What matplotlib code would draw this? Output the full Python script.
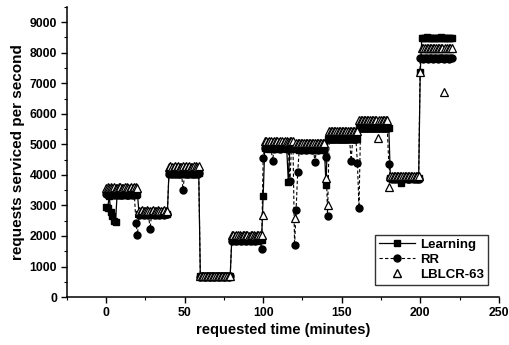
import matplotlib
matplotlib.use("Agg")
import matplotlib.pyplot as plt
from matplotlib.ticker import MultipleLocator
from matplotlib.lines import Line2D

plt.rcParams['font.family'] = ['Liberation Sans', 'DejaVu Sans']

# sampling times (minutes)
time = list(range(0, 221))

learning = [
    2950, 2900, 3300, 2800, 2650, 2500, 2450, 3340, 3360, 3350, 3340, 3370, 3350, 3360, 3340, 3350, 3370, 3350, 3360, 3340, 3360,
    2720, 2700, 2730, 2710, 2720, 2700, 2730, 2710, 2720, 2700, 2710, 2730, 2720, 2700, 2710, 2720, 2730, 2710, 2720,
    4050, 4030, 4060, 4040, 4050, 4020, 4060, 4040, 4050, 4030, 4040, 4060, 4050, 4030, 4040, 4050, 4060, 4040, 4030, 4050,
    680, 670, 690, 680, 670, 690, 680, 670, 690, 680, 670, 680, 690, 680, 670, 690, 680, 670, 690, 680,
    1860, 1850, 1870, 1860, 1840, 1870, 1860, 1850, 1870, 1860, 1850, 1860, 1870, 1850, 1860, 1870, 1850, 1860, 1870, 1860,
    3300, 4880, 4870, 4890, 4860, 4880, 4870, 4890, 4880, 4870, 4860, 4880, 4890, 4870, 4880, 4860, 3780, 4870, 4880, 4890, 4870,
    4840, 4850, 4830, 4850, 4840, 4830, 4850, 4840, 4850, 4830, 4840, 4850, 4830, 4840, 4850, 4840, 4830, 4850, 4840, 3680,
    5180, 5190, 5170, 5180, 5200, 5170, 5190, 5180, 5170, 5180, 5190, 5180, 5170, 5190, 5180, 5200, 5170, 5180, 5190, 5180,
    5530, 5540, 5520, 5530, 5550, 5520, 5540, 5530, 5520, 5530, 5540, 5530, 5520, 5540, 5530, 5550, 5520, 5530, 5540, 5530,
    3890, 3880, 3900, 3890, 3880, 3890, 3900, 3720, 3890, 3880, 3900, 3890, 3880, 3890, 3900, 3880, 3890, 3880, 3890,
    7380, 8470, 8490, 8480, 8500, 8470, 8490, 8480, 8470, 8490, 8480, 8470, 8490, 8500, 8480, 8470, 8490, 8480, 8470, 8490, 8480,
]

rr = [
    3360, 3350, 3370, 3340, 3360, 3350, 3370, 3350, 3360, 3340, 3350, 3370, 3360, 3350, 3340, 3360, 3370, 3350, 3360, 2440, 2040,
    2700, 2720, 2710, 2700, 2720, 2710, 2700, 2230, 2720, 2710, 2700, 2720, 2710, 2700, 2720, 2710, 2700, 2720, 2710,
    4040, 4050, 4030, 4060, 4040, 4050, 4030, 4040, 4060, 3520, 4050, 4030, 4040, 4050, 4060, 4040, 4030, 4050, 4040, 4050,
    670, 680, 690, 670, 680, 690, 670, 680, 690, 670, 680, 690, 670, 680, 690, 670, 680, 690, 670, 680,
    1850, 1860, 1870, 1850, 1860, 1870, 1850, 1860, 1870, 1850, 1860, 1870, 1850, 1860, 1870, 1850, 1860, 1870, 1860, 1580,
    4560, 4880, 4870, 4890, 4870, 4880, 4470, 4860, 4890, 4870, 4880, 4860, 4870, 4890, 4880, 4870, 4860, 3800, 4880, 4870, 1690,
    2860, 4100, 4850, 4830, 4850, 4840, 4830, 4850, 4840, 4850, 4830, 4840, 4430, 4850, 4830, 4840, 4850, 4840, 4830, 4570,
    2640, 5180, 5190, 5170, 5180, 5170, 5190, 5180, 5170, 5180, 5190, 5180, 5170, 5190, 5180, 4470, 5170, 5180, 5190, 4400,
    2930, 5530, 5540, 5520, 5530, 5550, 5520, 5540, 5530, 5520, 5530, 5540, 5530, 5520, 5540, 5530, 5550, 5520, 5530, 4340,
    3890, 3880, 3900, 3880, 3890, 3870, 3900, 3890, 3880, 3890, 3900, 3880, 3870, 3890, 3900, 3880, 3890, 3870, 3880,
    7820, 7830, 7810, 7820, 7840, 7810, 7830, 7820, 7810, 7830, 7820, 7810, 7830, 7840, 7820, 7810, 7830, 7820, 7810, 7830, 7820,
]

lblcr = [
    3580, 3590, 3570, 3600, 3580, 3590, 3570, 3580, 3600, 3590, 3580, 3570, 3590, 3600, 3580, 3570, 3590, 3580, 3600, 3590, 3580,
    2830, 2820, 2840, 2830, 2820, 2840, 2830, 2820, 2830, 2840, 2820, 2830, 2840, 2830, 2820, 2830, 2840, 2820, 2830,
    4270, 4280, 4260, 4270, 4290, 4260, 4280, 4270, 4260, 4280, 4270, 4290, 4260, 4280, 4270, 4260, 4280, 4290, 4270, 4280,
    690, 700, 690, 680, 700, 690, 700, 690, 680, 690, 700, 690, 680, 700, 690, 700, 690, 680, 690, 700,
    2020, 2030, 2010, 2020, 2030, 2020, 2010, 2030, 2020, 2020, 2030, 2010, 2020, 2030, 2020, 2010, 2030, 2020, 2030, 2020,
    2700, 5100, 5110, 5090, 5100, 5110, 5090, 5100, 5110, 5100, 5090, 5110, 5100, 5090, 5100, 5110, 5090, 5100, 5110, 5100, 2600,
    5050, 5060, 5040, 5050, 5060, 5040, 5050, 5060, 5050, 5040, 5060, 5050, 5040, 5050, 5060, 5050, 5040, 5060, 5050, 3900,
    3000, 5440, 5450, 5430, 5440, 5450, 5430, 5440, 5450, 5440, 5430, 5450, 5440, 5430, 5450, 5440, 5430, 5440, 5450, 5440,
    5800, 5810, 5790, 5800, 5810, 5790, 5800, 5810, 5800, 5790, 5810, 5800, 5200, 5790, 5810, 5800, 5790, 5810, 5800, 3610,
    3960, 3970, 3950, 3960, 3970, 3950, 3960, 3970, 3960, 3950, 3970, 3960, 3950, 3970, 3960, 3950, 3960, 3970, 3960,
    7380, 8150, 8160, 8140, 8150, 8160, 8140, 8150, 8160, 8140, 8150, 8160, 8140, 8150, 8160, 6730, 8140, 8150, 8160, 8140, 8150,
]

series_labels = ["Learning", "RR", "LBLCR-63"]

fig = plt.figure(figsize=(5.10, 3.45), dpi=100)
ax = fig.add_axes([0.131, 0.139, 0.847, 0.841])

ax.plot(time, learning, color='black', lw=0.9, ls='-', marker='s', ms=4.5,
        mfc='black', mec='black', label=series_labels[0], zorder=3)
ax.plot(time, rr, color='black', lw=0.8, ls=(0, (3, 2)), marker='o', ms=5,
        mfc='black', mec='black', label=series_labels[1], zorder=4)
ax.plot(time, lblcr, ls='none', marker='^', ms=5.5, mfc='white', mec='black',
        mew=0.9, label=series_labels[2], zorder=5)

ax.set_xlim(-25, 250)
ax.set_ylim(0, 9500)
ax.xaxis.set_major_locator(MultipleLocator(50))
ax.xaxis.set_minor_locator(MultipleLocator(25))
ax.yaxis.set_major_locator(MultipleLocator(1000))
ax.yaxis.set_minor_locator(MultipleLocator(500))
ax.tick_params(which='major', direction='out', length=4, width=1.0, labelsize=8.8, pad=3)
ax.tick_params(which='minor', direction='out', length=2.5, width=0.8)
for lab in ax.get_xticklabels() + ax.get_yticklabels():
    lab.set_fontweight('bold')

ax.spines['top'].set_visible(False)
ax.spines['right'].set_visible(False)
ax.spines['left'].set_linewidth(1.1)
ax.spines['bottom'].set_linewidth(1.1)

ax.set_xlabel("requested time (minutes)", fontsize=10.5, fontweight='bold', labelpad=3)
ax.set_ylabel("requests serviced per second", fontsize=11, fontweight='bold', labelpad=3)

handles = [
    Line2D([], [], color='black', lw=0.9, marker='s', ms=4.5),
    Line2D([], [], color='black', lw=0.8, ls=(0, (3, 2)), marker='o', ms=5),
    Line2D([], [], ls='none', marker='^', ms=5.5, mfc='white', mec='black'),
]
leg = ax.legend(handles, series_labels, loc='lower right',
                bbox_to_anchor=(0.99, 0.02), frameon=True, fancybox=False,
                edgecolor='black', prop={'weight': 'bold', 'size': 9.5},
                handlelength=2.7, handletextpad=0.4, borderpad=0.3,
                labelspacing=0.2)
leg.get_frame().set_linewidth(1.0)

fig.savefig("out.png", dpi=100)
